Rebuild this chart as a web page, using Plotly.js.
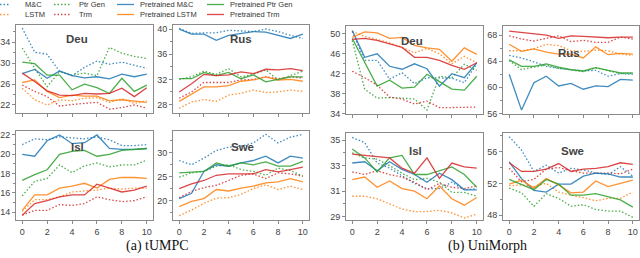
<!DOCTYPE html>
<html><head><meta charset="utf-8">
<script src="https://cdn.plot.ly/plotly-3.0.1.min.js"></script>
<style>html,body{margin:0;padding:0;background:#fff}#chart{width:640px;height:258px}</style>
</head><body><div id="chart"></div>
<script>
// ---------- DATA ----------
const steps = [0,1,2,3,4,5,6,7,8,9,10];
const seriesNames = ['M&C','LSTM','Ptr Gen','Trm','Pretrained M&C','Pretrained LSTM','Pretrained Ptr Gen','Pretrained Trm'];
const xTickVals = [0,2,4,6,8,10];
const groupCaptions = ['(a) tUMPC','(b) UniMorph'];
const langNames = ['Deu','Rus','Isl','Swe'];

// series order in every panel: M&C, LSTM, Ptr Gen, Trm, Pretrained M&C, Pretrained LSTM, Pretrained Ptr Gen, Pretrained Trm
const tumpcDeu = [
  [36.7,32.1,31.7,28.4,27.6,29.2,30.4,29.8,30.2,29.6,29.0],
  [25.2,23.0,22.0,23.0,22.8,23.3,23.4,22.5,23.2,22.3,22.8],
  [32.9,29.0,25.5,28.4,27.7,28.1,27.6,33.0,31.9,31.3,30.9],
  [25.8,24.6,23.6,21.8,22.1,22.3,22.5,21.2,21.5,22.0,21.4],
  [28.0,28.8,27.1,28.5,27.6,27.2,27.4,27.0,27.9,27.4,27.9],
  [26.3,26.8,24.6,23.4,23.9,23.7,23.7,22.8,23.0,22.8,22.5],
  [30.2,29.9,27.7,27.7,24.9,26.0,25.3,24.2,27.1,24.6,25.8],
  [28.1,26.5,24.7,23.9,23.8,24.2,24.1,24.2,25.2,23.6,25.3]
];
const tumpcRus = [
  [40.1,39.3,39.4,39.4,39.8,39.7,39.6,40.0,39.6,39.0,38.5],
  [27.4,28.4,28.8,28.5,29.5,29.8,30.3,29.9,30.0,30.3,30.1],
  [32.0,32.4,33.3,32.8,33.7,32.4,32.8,33.5,31.9,32.6,33.3],
  [29.0,30.0,31.5,31.5,31.5,31.9,32.0,32.4,32.1,32.4,32.2],
  [40.0,39.2,39.2,38.2,39.0,39.3,39.6,39.5,39.0,38.5,39.2],
  [28.5,29.6,30.8,30.8,31.0,31.7,31.9,32.4,31.9,32.0,31.7],
  [32.1,32.1,33.1,32.6,33.1,32.1,32.7,31.6,32.0,32.4,32.4],
  [30.0,31.3,32.8,32.6,32.7,33.2,32.9,33.6,33.5,33.7,33.4]
];
const tumpcIsl = [
  [21.0,21.6,21.5,21.8,21.7,21.6,21.8,21.5,20.9,20.9,21.0],
  [14.1,15.3,15.3,15.6,16.1,16.2,16.3,16.5,16.4,16.5,16.5],
  [15.7,17.2,17.5,18.9,18.1,18.8,19.1,18.7,18.9,18.9,19.4],
  [13.7,14.2,14.2,14.8,14.7,14.9,15.6,15.3,15.1,15.2,15.6],
  [20.0,19.8,21.4,22.0,21.1,21.2,22.0,20.6,20.5,20.5,20.6],
  [14.2,15.8,15.8,16.5,16.7,17.0,16.5,17.4,17.6,17.6,17.5],
  [17.3,17.9,18.4,20.0,20.3,20.4,19.8,20.0,20.4,20.5,20.6],
  [13.7,14.9,15.2,15.6,15.8,15.8,16.9,16.5,16.1,16.3,16.7]
];
const tumpcSwe = [
  [28.4,27.5,28.9,30.5,31.2,31.4,32.1,33.9,32.1,33.3,33.9],
  [16.8,18.0,19.4,20.5,20.6,21.3,22.5,23.3,22.3,23.0,22.3],
  [24.9,25.8,26.1,27.2,27.5,26.5,26.1,25.3,26.8,26.3,25.1],
  [20.6,21.9,22.7,23.2,24.2,25.3,25.6,24.6,25.8,25.6,25.1],
  [20.4,21.5,26.1,27.5,27.2,27.9,28.4,29.3,27.9,29.3,28.9],
  [18.7,19.8,20.4,22.3,22.0,22.6,23.0,23.7,23.9,24.6,23.9],
  [25.8,26.0,26.1,27.9,27.2,27.9,27.5,28.1,27.2,27.2,28.2],
  [22.5,23.5,24.2,25.3,25.6,25.6,25.6,26.5,26.0,26.5,27.0]
];
const unimorphDeu = [
  [50.5,44.7,44.7,40.9,42.2,40.0,41.2,41.2,41.1,40.2,44.0],
  [50.5,49.5,48.9,48.2,47.3,46.2,47.1,46.0,44.0,45.5,44.2],
  [48.7,38.9,37.1,37.2,37.1,36.9,34.7,41.5,41.2,43.9,42.7],
  [42.5,41.2,39.7,37.3,36.9,35.9,36.5,35.2,35.2,35.3,35.3],
  [50.7,45.3,46.0,43.5,42.9,44.0,43.0,39.5,42.0,41.2,44.2],
  [49.3,50.4,50.2,49.1,49.3,47.7,47.2,46.9,44.5,47.2,45.9],
  [49.1,44.2,39.5,40.7,39.1,39.3,41.9,40.4,38.9,38.7,41.5],
  [48.9,49.1,48.7,48.0,47.3,45.3,45.3,44.7,43.7,42.9,44.2]
];
const unimorphRus = [
  [64.9,64.5,63.9,63.2,62.9,62.7,62.5,62.6,61.7,62.1,62.0],
  [65.6,65.6,65.9,66.6,66.4,65.6,65.5,65.7,65.6,65.1,64.9],
  [64.1,62.7,63.1,63.4,62.9,62.6,62.4,63.0,62.5,62.1,62.1],
  [67.9,67.4,67.1,67.5,67.9,67.0,67.2,66.9,66.9,67.7,67.4],
  [62.0,56.5,60.7,61.7,60.2,60.6,59.7,60.2,60.1,61.2,61.1],
  [66.6,65.5,65.9,65.4,65.1,65.1,64.5,66.2,65.0,65.2,65.1],
  [64.2,63.2,63.2,63.6,63.1,62.7,62.5,63.0,62.6,62.2,62.2],
  [68.6,68.4,68.3,68.0,67.5,67.9,67.8,67.7,67.6,67.7,67.7]
];
const unimorphIsl = [
  [35.2,34.8,33.2,32.8,32.2,31.6,31.2,31.2,31.7,31.1,31.2],
  [30.6,30.6,30.4,30.0,29.6,29.4,29.4,29.5,29.3,28.9,29.2],
  [34.0,33.6,33.5,33.0,32.4,31.9,32.0,31.7,30.9,30.9,30.6],
  [32.5,32.3,32.6,32.3,32.1,31.7,31.1,31.6,31.3,31.2,31.4],
  [33.2,33.3,32.6,33.3,32.7,32.3,31.7,32.4,31.9,31.1,31.1],
  [31.9,32.1,31.3,31.8,31.2,31.0,30.4,31.4,30.4,29.9,30.5],
  [34.3,33.6,32.5,33.6,33.8,32.3,32.3,32.6,32.9,32.3,31.3],
  [33.9,33.8,33.7,33.6,32.8,32.4,33.6,32.0,33.2,32.9,32.8]
];
const unimorphSwe = [
  [57.9,56.2,53.5,54.3,53.3,53.9,53.7,53.3,53.1,54.1,52.9],
  [51.7,51.8,51.6,52.0,50.9,50.5,50.2,49.8,50.1,50.1,50.9],
  [51.4,50.8,49.1,50.7,50.1,49.1,49.3,48.7,48.5,48.5,47.7],
  [53.9,52.2,52.5,53.8,54.0,53.6,53.3,53.3,53.3,53.2,53.8],
  [54.7,52.6,51.1,50.9,51.9,51.9,52.9,53.3,53.2,52.8,52.8],
  [51.9,52.4,51.4,52.6,51.8,50.8,50.9,52.3,51.6,52.0,52.4],
  [52.5,51.8,51.2,52.5,51.9,50.5,50.5,50.7,50.3,49.9,49.0],
  [54.6,53.5,53.5,53.8,54.5,53.5,53.8,53.9,54.1,54.6,54.4]
];

// ---------- STYLE / LAYOUT ----------
const W = 640, H = 258;
const seriesColors = ['#1f77b4','#ff7f0e','#2ca02c','#d62728','#1f77b4','#ff7f0e','#2ca02c','#d62728'];
const seriesDash = ['1.5px,2px','1.5px,2px','1.5px,2px','1.5px,2px','solid','solid','solid','solid'];

const panels = [
  {data: tumpcDeu,    lang: 0, px:[16,153],  py:[25,112.5], range:[20.56,37.3], dtick:4, t0:22, title:[77,39],  xlab:false},
  {data: tumpcRus,    lang: 1, px:[173,309], py:[25,112.5], range:[26.73,40.64], dtick:4, t0:28, title:[241,39], xlab:false},
  {data: tumpcIsl,    lang: 2, px:[16,153],  py:[131,220],  range:[13.2,22.41], dtick:2, t0:14, title:[77,147], xlab:true},
  {data: tumpcSwe,    lang: 3, px:[173,309], py:[131,220],  range:[15.9,34.6],  dtick:5, t0:20, title:[242,147], xlab:true},
  {data: unimorphDeu, lang: 0, px:[346,483], py:[26,114],   range:[33.9,51.6],  dtick:4, t0:34, title:[412,41], xlab:false},
  {data: unimorphRus, lang: 1, px:[503,639], py:[26,114],   range:[55.9,69.4],  dtick:4, t0:56, title:[569,53], xlab:false},
  {data: unimorphIsl, lang: 2, px:[346,483], py:[133,220],  range:[28.74,35.55], dtick:2, t0:29, title:[415,151], xlab:true},
  {data: unimorphSwe, lang: 3, px:[503,639], py:[133,220],  range:[47.37,58.36], dtick:4, t0:48, title:[572,151], xlab:true}
];

const axisColor = '#8a8a8a';
const tickFont = {family:'Liberation Sans, Arial, sans-serif', size:9, color:'#444'};

const traces = [];
const layout = {
  width: W, height: H,
  margin: {l:0, r:0, t:0, b:0, pad:0},
  paper_bgcolor: '#fff', plot_bgcolor: '#fff',
  showlegend: false,
  annotations: [], shapes: []
};

panels.forEach((p, i) => {
  const n = i === 0 ? '' : String(i + 1);
  layout['xaxis' + n] = {
    domain: [p.px[0] / W, p.px[1] / W], anchor: 'y' + n,
    range: [-0.5, 10.5], tickvals: xTickVals, showticklabels: p.xlab,
    ticks: 'outside', ticklen: 3, tickwidth: 1, tickcolor: axisColor,
    showline: true, mirror: true, linecolor: axisColor, linewidth: 1,
    showgrid: false, zeroline: false, tickfont: tickFont, fixedrange: true
  };
  layout['yaxis' + n] = {
    domain: [1 - p.py[1] / H, 1 - p.py[0] / H], anchor: 'x' + n,
    range: p.range, tick0: p.t0, dtick: p.dtick,
    ticks: 'outside', ticklen: 3, tickwidth: 1, tickcolor: axisColor,
    minor: {ticks: 'outside', ticklen: 2, tickcolor: axisColor, dtick: p.dtick / 2, tick0: p.t0},
    showline: true, mirror: true, linecolor: axisColor, linewidth: 1,
    showgrid: false, zeroline: false, tickfont: tickFont, fixedrange: true
  };
  p.data.forEach((vals, s) => {
    traces.push({
      x: steps, y: vals, xaxis: 'x' + n, yaxis: 'y' + n,
      type: 'scatter', mode: 'lines', name: seriesNames[s],
      line: {color: seriesColors[s], width: 1.3, dash: seriesDash[s]},
      opacity: 0.85, hoverinfo: 'skip', cliponaxis: true
    });
  });
  layout.annotations.push({
    xref: 'paper', yref: 'paper', x: p.title[0] / W, y: 1 - p.title[1] / H,
    xanchor: 'center', yanchor: 'middle', showarrow: false,
    text: '<b>' + langNames[p.lang] + '</b>',
    font: {family: 'Liberation Sans, Arial, sans-serif', size: 11.5, color: '#444'}
  });
});

// captions
[[157, 246], [487, 246]].forEach((c, k) => {
  layout.annotations.push({
    xref: 'paper', yref: 'paper', x: c[0] / W, y: 1 - c[1] / H,
    xanchor: 'center', yanchor: 'middle', showarrow: false,
    text: groupCaptions[k],
    font: {family: 'Liberation Serif, Times New Roman, serif', size: 14, color: '#111'}
  });
});

// legend (2 rows x 4 columns), drawn as samples + labels
const legendCols = [
  {line:[-7, 9],   text: 23,  series:[0, 1]},
  {line:[54, 70],  text: 77,  series:[2, 3]},
  {line:[117, 134], text: 138, series:[4, 5]},
  {line:[207, 224], text: 228, series:[6, 7]}
];
const legendRows = [4.5, 14.5];
legendCols.forEach(col => {
  col.series.forEach((s, r) => {
    const yy = 1 - legendRows[r] / H;
    layout.shapes.push({
      type: 'line', xref: 'paper', yref: 'paper',
      x0: col.line[0] / W, x1: col.line[1] / W, y0: yy, y1: yy,
      line: {color: seriesColors[s], width: 1.3, dash: seriesDash[s]}, opacity: 0.85
    });
    layout.annotations.push({
      xref: 'paper', yref: 'paper', x: col.text / W, y: yy,
      xanchor: 'left', yanchor: 'middle', showarrow: false,
      text: seriesNames[s],
      font: {family: 'Liberation Sans, Arial, sans-serif', size: 7.5, color: '#333'}
    });
  });
});

Plotly.newPlot('chart', traces, layout, {staticPlot: true, displayModeBar: false});
</script>
</body></html>
